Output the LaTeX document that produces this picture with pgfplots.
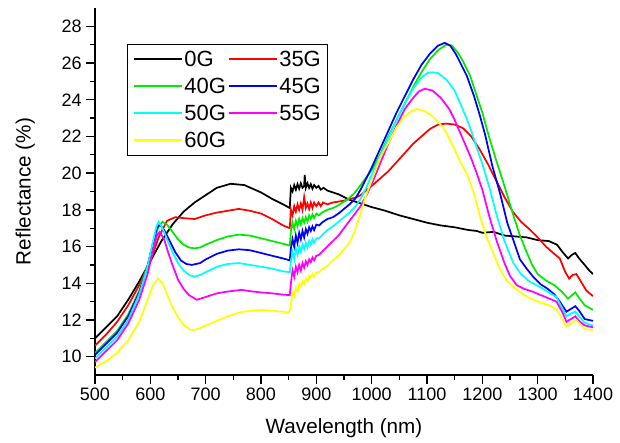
\documentclass[border=0pt]{standalone}
\usepackage{fontspec}
\setmainfont{Liberation Sans}
\usepackage{pgfplots}
\pgfplotsset{compat=1.18}
\definecolor{cred}{RGB}{255,0,0}
\definecolor{cgreen}{RGB}{0,235,0}
\definecolor{cblue}{RGB}{0,0,255}
\definecolor{ccyan}{RGB}{0,255,255}
\definecolor{cmag}{RGB}{255,0,255}
\definecolor{cyel}{RGB}{255,255,0}
\begin{document}
\begin{tikzpicture}
\begin{axis}[
    name=ax,
    scale only axis,
    width=373.5pt, height=275.25pt,
    xmin=500, xmax=1400, ymin=9, ymax=29,
    axis x line*=bottom, axis y line*=left,
    axis line style={line width=1pt},
    xtick={500,600,...,1400}, ytick={10,12,...,28},
    minor x tick num=1, minor y tick num=1,
    tick align=outside,
    major tick length=6.5pt, minor tick length=3.5pt,
    every tick/.style={black, line width=1pt},
    tick label style={font=\fontsize{13.5}{16}\selectfont},
    /pgf/number format/assume math mode=true,
    xticklabel style={/pgf/number format/1000 sep={}},
    label style={font=\fontsize{15.5}{18}\selectfont},
    xlabel={Wavelength (nm)},
    ylabel={Reflectance (\%)},
    x label style={at={(axis description cs:0.5,-0.145)}, anchor=center},
    y label style={at={(axis description cs:-0.14,0.5)}, anchor=center},
    legend columns=2,
    legend cell align=left,
    legend style={at={(axis description cs:0.0643,0.902)}, anchor=north west,
        draw=black, line width=0.8pt, font=\fontsize{16.5}{19}\selectfont,
        inner xsep=4pt, inner ysep=3.5pt, row sep=4.8pt,
        nodes={inner sep=1.2pt}},
    legend image code/.code={\draw[#1, line width=1.5pt] (0pt,0.5pt) -- (36pt,0.5pt);},
    every axis plot/.append style={line width=1.3pt},
]
% 0G
\addplot[black] coordinates {(500,11.0)(520,11.6)(540,12.2)(560,13.1)(580,14.1)(600,15.2)(620,16.3)(640,17.2)(660,17.9)(680,18.4)(700,18.8)(720,19.2)(745,19.42)(770,19.35)(800,18.95)(820,18.6)(840,18.3)(852,18.1)(854,19.2)(857,19.0)(860,19.35)(863,19.1)(866,19.4)(869,19.15)(872,19.45)(875,19.2)(878,19.3)(879,19.9)(881,19.2)(884,19.45)(887,19.2)(890,19.4)(893,19.15)(896,19.35)(900,19.2)(904,19.3)(908,19.1)(913,19.2)(920,19.05)(930,18.95)(940,18.85)(950,18.7)(960,18.55)(975,18.4)(990,18.25)(1000,18.15)(1025,17.95)(1050,17.7)(1075,17.5)(1100,17.3)(1125,17.15)(1150,17.05)(1175,16.9)(1190,16.85)(1200,16.75)(1220,16.8)(1240,16.6)(1260,16.55)(1280,16.5)(1300,16.35)(1320,16.3)(1335,16.1)(1345,15.7)(1355,15.35)(1362,15.55)(1368,15.65)(1375,15.35)(1385,15.0)(1393,14.7)(1400,14.5)};
% 35G
\addplot[cred] coordinates {(500,10.6)(520,11.2)(540,11.9)(560,12.8)(580,13.9)(600,15.2)(615,16.5)(630,17.4)(645,17.6)(660,17.55)(680,17.5)(700,17.7)(720,17.85)(740,17.95)(760,18.05)(780,17.95)(800,17.8)(820,17.5)(840,17.15)(852,17.0)(854,18.0)(857,17.7)(860,18.2)(863,17.9)(866,18.3)(869,18.0)(872,18.35)(875,18.0)(878,18.7)(881,18.1)(884,18.35)(887,18.05)(890,18.4)(893,18.1)(896,18.4)(900,18.2)(904,18.4)(908,18.2)(912,18.4)(920,18.3)(930,18.4)(940,18.45)(950,18.5)(960,18.6)(970,18.65)(980,18.8)(990,19.05)(1000,19.3)(1015,19.7)(1030,20.1)(1045,20.6)(1060,21.1)(1075,21.6)(1090,22.0)(1105,22.4)(1120,22.65)(1135,22.7)(1150,22.65)(1165,22.45)(1180,22.0)(1195,21.3)(1210,20.5)(1225,19.6)(1240,18.7)(1255,17.9)(1270,17.35)(1285,16.95)(1300,16.5)(1315,16.0)(1330,15.6)(1340,15.35)(1350,14.6)(1357,14.25)(1363,14.45)(1370,14.5)(1378,14.1)(1388,13.6)(1400,13.3)};
% 40G
\addplot[cgreen] coordinates {(500,10.2)(520,10.8)(540,11.4)(560,12.3)(580,13.6)(595,15.0)(605,16.2)(615,17.1)(622,17.35)(630,17.2)(640,16.8)(650,16.4)(660,16.1)(670,15.95)(680,15.9)(690,15.95)(700,16.1)(720,16.35)(740,16.55)(760,16.65)(780,16.6)(800,16.45)(820,16.3)(840,16.15)(852,16.05)(854,16.8)(857,17.3)(860,16.95)(863,17.4)(866,17.1)(869,17.5)(872,17.2)(875,17.55)(878,17.3)(881,17.6)(884,17.35)(887,17.7)(890,17.5)(893,17.75)(896,17.55)(900,17.8)(905,17.7)(910,17.85)(920,18.0)(930,18.1)(940,18.25)(950,18.45)(960,18.65)(970,18.95)(980,19.35)(990,19.75)(1000,20.15)(1015,21.0)(1030,22.0)(1045,22.9)(1060,23.8)(1075,24.7)(1090,25.5)(1105,26.2)(1120,26.7)(1135,27.0)(1145,26.95)(1155,26.6)(1165,26.1)(1178,25.3)(1190,24.2)(1200,23.3)(1210,22.2)(1225,20.7)(1240,19.3)(1255,17.8)(1268,16.6)(1280,15.7)(1290,15.0)(1300,14.5)(1315,14.15)(1330,13.9)(1345,13.5)(1355,13.15)(1362,13.35)(1368,13.5)(1375,13.2)(1385,12.8)(1400,12.55)};
% 45G
\addplot[cblue] coordinates {(500,10.1)(520,10.7)(540,11.3)(560,12.2)(580,13.5)(595,14.9)(605,16.2)(612,17.0)(617,17.2)(625,16.9)(635,16.3)(645,15.7)(655,15.25)(665,15.05)(675,15.0)(690,15.1)(700,15.3)(720,15.6)(740,15.78)(760,15.85)(780,15.8)(800,15.65)(820,15.5)(840,15.35)(852,15.25)(854,15.9)(857,16.4)(860,16.0)(863,16.6)(866,16.2)(869,16.75)(872,16.4)(875,16.85)(878,16.5)(881,16.95)(884,16.7)(887,17.05)(890,16.85)(893,17.1)(896,16.9)(900,17.2)(905,17.15)(910,17.3)(920,17.5)(930,17.6)(940,17.8)(950,18.05)(960,18.3)(970,18.6)(980,19.1)(990,19.7)(1000,20.3)(1015,21.3)(1030,22.3)(1045,23.3)(1060,24.2)(1075,25.1)(1090,25.9)(1105,26.5)(1120,26.95)(1132,27.1)(1142,26.95)(1152,26.5)(1162,25.9)(1172,25.3)(1185,24.2)(1195,23.2)(1205,22.1)(1218,20.4)(1232,18.9)(1245,17.3)(1256,16.35)(1268,15.3)(1280,14.8)(1292,14.35)(1305,13.95)(1318,13.7)(1330,13.4)(1340,13.0)(1352,12.45)(1360,12.6)(1368,12.75)(1375,12.5)(1385,12.05)(1400,11.95)};
% 50G
\addplot[ccyan] coordinates {(500,9.9)(520,10.5)(540,11.1)(560,12.0)(580,13.4)(595,14.9)(605,16.3)(611,17.1)(615,17.35)(622,17.0)(630,16.4)(640,15.7)(650,15.1)(660,14.7)(670,14.45)(680,14.36)(690,14.45)(700,14.6)(720,14.9)(740,15.05)(760,15.1)(780,15.0)(800,14.9)(820,14.8)(840,14.65)(852,14.6)(854,15.2)(857,15.7)(860,15.3)(863,15.9)(866,15.55)(869,16.0)(872,15.7)(875,16.1)(878,15.85)(881,16.2)(884,15.95)(887,16.3)(890,16.1)(893,16.4)(896,16.2)(900,16.45)(905,16.45)(910,16.6)(920,16.9)(930,17.1)(940,17.35)(950,17.6)(960,17.85)(970,18.15)(980,18.6)(990,19.2)(1000,19.9)(1015,20.9)(1030,21.9)(1045,22.9)(1060,23.8)(1075,24.6)(1090,25.2)(1100,25.45)(1110,25.5)(1120,25.45)(1135,25.1)(1150,24.5)(1160,23.8)(1170,23.1)(1180,22.3)(1190,21.4)(1200,20.5)(1213,19.2)(1226,17.7)(1240,16.3)(1256,15.1)(1270,14.5)(1285,14.1)(1304,13.8)(1320,13.5)(1334,13.25)(1345,12.6)(1352,12.2)(1360,12.35)(1368,12.45)(1375,12.2)(1385,11.85)(1400,11.7)};
% 55G
\addplot[cmag] coordinates {(500,9.7)(520,10.3)(540,10.9)(560,11.8)(580,13.1)(595,14.5)(605,15.8)(612,16.6)(617,16.8)(625,16.4)(632,15.7)(640,15.0)(650,14.2)(660,13.7)(670,13.35)(684,13.1)(700,13.25)(720,13.45)(740,13.55)(765,13.64)(785,13.55)(800,13.5)(820,13.45)(840,13.38)(852,13.35)(854,14.0)(857,14.7)(860,14.35)(863,14.9)(866,14.6)(869,15.0)(872,14.7)(875,15.1)(878,14.85)(881,15.2)(884,15.0)(887,15.3)(890,15.15)(893,15.4)(896,15.25)(900,15.5)(905,15.55)(910,15.7)(920,16.0)(930,16.3)(940,16.6)(950,17.0)(960,17.4)(970,17.8)(980,18.2)(990,18.75)(1000,19.4)(1015,20.5)(1030,21.6)(1045,22.6)(1060,23.5)(1075,24.1)(1085,24.45)(1096,24.6)(1110,24.5)(1125,24.1)(1140,23.5)(1150,22.9)(1160,22.2)(1170,21.5)(1180,20.8)(1190,19.98)(1200,19.1)(1213,17.6)(1226,16.3)(1240,15.1)(1250,14.4)(1262,13.9)(1275,13.7)(1290,13.55)(1310,13.3)(1334,13.0)(1345,12.4)(1352,11.9)(1360,12.05)(1368,12.2)(1375,11.95)(1385,11.7)(1400,11.6)};
% 60G
\addplot[cyel] coordinates {(500,9.4)(520,9.75)(540,10.2)(560,10.9)(580,11.9)(595,13.1)(605,13.9)(614,14.27)(622,14.0)(630,13.4)(640,12.7)(650,12.15)(660,11.75)(670,11.5)(678,11.45)(690,11.55)(700,11.7)(720,11.95)(740,12.2)(760,12.4)(780,12.5)(800,12.55)(820,12.5)(840,12.45)(850,12.4)(853,12.6)(855,13.1)(857,13.45)(860,13.3)(863,13.75)(866,13.55)(869,13.95)(872,13.8)(875,14.1)(878,13.95)(881,14.25)(884,14.1)(887,14.4)(890,14.3)(893,14.5)(896,14.35)(900,14.6)(905,14.6)(910,14.75)(920,14.95)(930,15.25)(940,15.5)(950,15.85)(960,16.2)(970,16.9)(980,17.8)(990,18.8)(1000,19.6)(1015,20.85)(1033,21.8)(1045,22.5)(1057,23.0)(1070,23.35)(1081,23.5)(1095,23.4)(1110,23.1)(1129,22.5)(1140,21.9)(1150,21.3)(1160,20.6)(1172,19.98)(1185,18.9)(1196,17.6)(1208,16.5)(1220,15.6)(1233,14.7)(1244,14.15)(1260,13.7)(1280,13.27)(1300,13.0)(1320,12.8)(1334,12.6)(1345,12.0)(1352,11.63)(1360,11.8)(1370,12.0)(1377,11.75)(1385,11.5)(1400,11.45)};
\legend{0G, 35G, 40G, 45G, 50G, 55G, 60G}
\end{axis}
\path ([shift={(-71.25pt,-49.5pt)}]ax.south west) rectangle ([shift={(20.25pt,6pt)}]ax.north east);
\end{tikzpicture}
\end{document}
